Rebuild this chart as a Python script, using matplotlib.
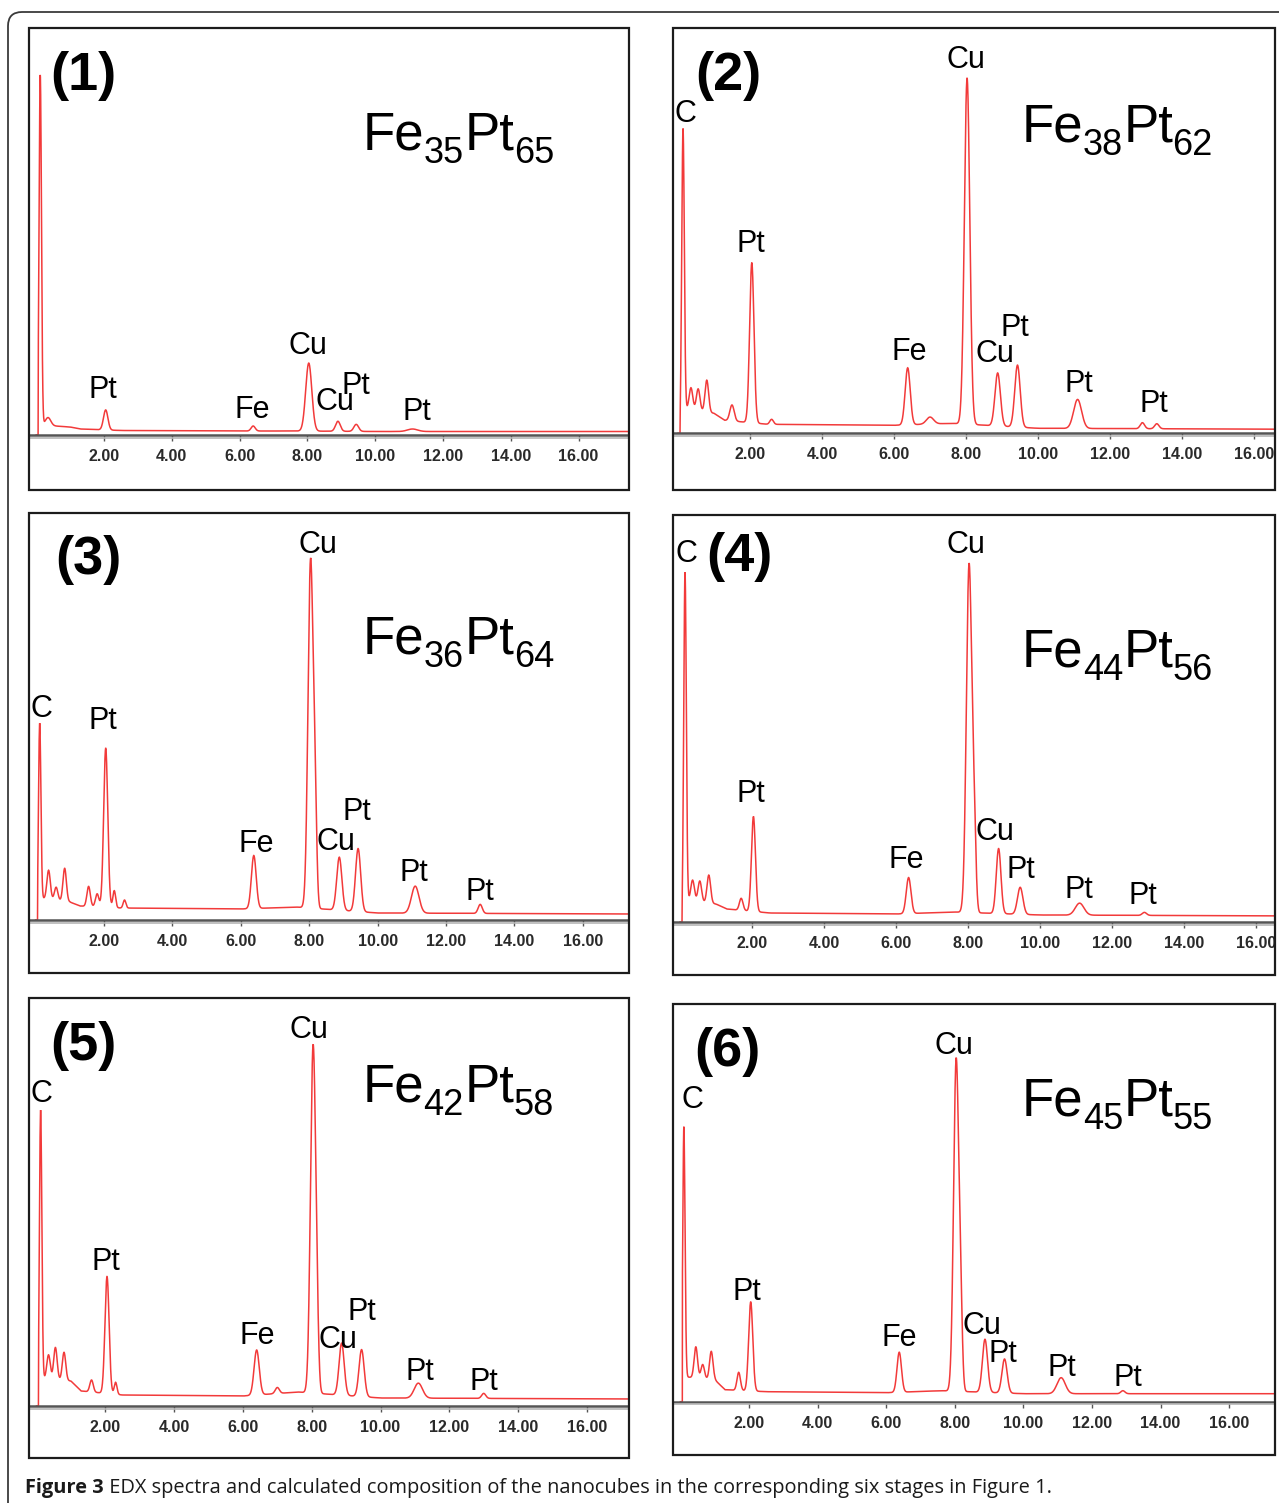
import numpy as np
import matplotlib
matplotlib.use("Agg")
import matplotlib.pyplot as plt
from matplotlib.patches import FancyBboxPatch, Rectangle
from matplotlib.lines import Line2D
from matplotlib.transforms import IdentityTransform

# ------------------------------------------------------------------ data
ticks = [2, 4, 6, 8, 10, 12, 14, 16]
tick_labels = ["2.00", "4.00", "6.00", "8.00", "10.00", "12.00", "14.00", "16.00"]

panel_tags = ["(1)", "(2)", "(3)", "(4)", "(5)", "(6)"]
fe_content = ["35", "38", "36", "44", "42", "45"]
pt_content = ["65", "62", "64", "56", "58", "55"]

# background (continuum) knots, energy in keV, intensity in a.u.
bg_energy = [0.0, 0.06, 0.10, 1.0, 1.3, 2.5, 6.0, 7.6, 10.0, 17.5]
bg1 = [0, 0, 10, 8, 6, 4.5, 4, 4, 3.5, 3.5]
bg2 = [0, 0, 25, 20, 13, 9, 8, 10, 5, 4]
bg3 = [0, 0, 22, 18, 14, 12, 11, 13, 7, 6]
bg4 = [0, 0, 22, 18, 13, 9, 8, 10, 7, 6]
bg5 = [0, 0, 28, 25, 15, 11, 10, 14, 8, 7]
bg6 = [0, 0, 25, 22, 12, 10, 9, 11, 8, 8]

# peaks: energy (keV), height above continuum (a.u.), width sigma (keV)
p1_energy = [0.12, 0.35, 2.05, 6.40, 8.04, 8.90, 9.44, 11.10]
p1_height = [350, 8, 20, 5, 68, 10, 7, 2.5]
p1_sigma = [0.035, 0.08, 0.065, 0.06, 0.09, 0.07, 0.07, 0.15]

p2_energy = [0.14, 0.36, 0.56, 0.80, 1.50, 2.05, 2.60, 6.38, 7.00, 8.03, 8.88, 9.43, 11.10, 12.90, 13.30]
p2_height = [280, 22, 22, 32, 16, 160, 5, 57, 7, 346, 53, 62, 29, 6, 5]
p2_sigma = [0.035, 0.05, 0.05, 0.05, 0.06, 0.06, 0.05, 0.07, 0.10, 0.075, 0.075, 0.075, 0.11, 0.06, 0.06]

p3_energy = [0.12, 0.38, 0.60, 0.85, 1.55, 1.80, 2.05, 2.30, 2.60, 6.38, 8.04, 8.17, 8.88, 9.43, 11.10, 13.00]
p3_height = [175, 29, 13, 33, 20, 13, 159, 17, 8, 53, 347, 90, 53, 63, 27, 9]
p3_sigma = [0.035, 0.05, 0.05, 0.05, 0.05, 0.05, 0.06, 0.04, 0.04, 0.07, 0.075, 0.05, 0.075, 0.075, 0.11, 0.06]

p4_energy = [0.14, 0.35, 0.55, 0.80, 1.70, 2.04, 6.35, 8.03, 8.17, 8.85, 9.45, 11.10, 12.90]
p4_height = [328, 21, 21, 28, 12, 95, 36, 348, 75, 65, 27, 12, 3]
p4_sigma = [0.035, 0.05, 0.05, 0.05, 0.05, 0.055, 0.065, 0.075, 0.05, 0.065, 0.075, 0.12, 0.06]

p5_energy = [0.12, 0.35, 0.55, 0.80, 1.60, 2.05, 2.30, 6.40, 7.00, 8.04, 8.15, 8.87, 9.45, 11.10, 13.00]
p5_height = [268, 24, 32, 28, 12, 117, 12, 45, 6, 345, 40, 52, 47, 15, 5]
p5_sigma = [0.035, 0.05, 0.05, 0.05, 0.05, 0.06, 0.04, 0.075, 0.06, 0.075, 0.05, 0.075, 0.075, 0.12, 0.06]

p6_energy = [0.10, 0.45, 0.65, 0.90, 1.70, 2.05, 6.38, 8.04, 8.17, 8.88, 9.45, 11.10, 12.90]
p6_height = [250, 31, 14, 28, 18, 89, 40, 331, 70, 53, 34, 16, 3]
p6_sigma = [0.035, 0.05, 0.05, 0.05, 0.05, 0.06, 0.065, 0.075, 0.05, 0.075, 0.075, 0.12, 0.06]

# peak labels shown in each panel
lab1 = ["Pt", "Fe", "Cu", "Cu", "Pt", "Pt"]
lab2 = ["C", "Cu", "Pt", "Fe", "Cu", "Pt", "Pt", "Pt"]
lab3 = ["Cu", "C", "Pt", "Fe", "Cu", "Pt", "Pt", "Pt"]
lab4 = ["C", "Cu", "Pt", "Fe", "Cu", "Pt", "Pt", "Pt"]
lab5 = ["C", "Cu", "Pt", "Fe", "Cu", "Pt", "Pt", "Pt"]
lab6 = ["C", "Cu", "Pt", "Fe", "Cu", "Pt", "Pt", "Pt"]

caption_bold = "Figure 3"
caption_rest = " EDX spectra and calculated composition of the nanocubes in the corresponding six stages in Figure 1."

# ------------------------------------------------------------------ layout (pixels)
W, H = 1279, 1503
# box x0, y0 (top), x1, y1 (bottom), axis baseline y, x-pixel of 0 keV, pixels per keV
boxes = [
    (29.4, 28.3, 628.6, 490.0, 435.0, 36.2, 33.9),
    (672.6, 28.3, 1274.7, 490.0, 433.3, 678.0, 36.0),
    (29.4, 513.3, 628.6, 973.3, 920.0, 35.6, 34.2),
    (672.6, 515.0, 1274.7, 975.0, 922.0, 680.0, 36.0),
    (29.4, 998.0, 628.6, 1458.0, 1406.0, 36.5, 34.4),
    (672.6, 1004.3, 1274.7, 1455.0, 1401.7, 680.4, 34.3),
]
tag_pos = [(83, 76), (728, 76), (88, 560), (739, 557), (83, 1046), (727, 1052)]
formula_pos = [(363, 150), (1022, 142), (363, 654), (1022, 667), (363, 1102), (1022, 1116)]
label_pos = [
    [(103, 388), (252, 408), (308, 343), (335, 400), (356, 384), (417, 409)],
    [(685, 111), (966, 58), (751, 241), (909, 350), (995, 352), (1015, 325), (1079, 382), (1154, 402)],
    [(318, 542), (41, 706), (103, 718), (256, 842), (336, 840), (357, 810), (414, 870), (480, 890)],
    [(686, 552), (966, 542), (751, 792), (906, 857), (995, 829), (1021, 868), (1079, 887), (1143, 893)],
    [(41, 1092), (309, 1027), (106, 1260), (257, 1334), (338, 1338), (362, 1309), (420, 1369), (484, 1380)],
    [(692, 1098), (954, 1043), (747, 1289), (899, 1336), (982, 1323), (1003, 1352), (1062, 1365), (1128, 1375)],
]

backgrounds = [bg1, bg2, bg3, bg4, bg5, bg6]
peaks = [
    (p1_energy, p1_height, p1_sigma),
    (p2_energy, p2_height, p2_sigma),
    (p3_energy, p3_height, p3_sigma),
    (p4_energy, p4_height, p4_sigma),
    (p5_energy, p5_height, p5_sigma),
    (p6_energy, p6_height, p6_sigma),
]
labels = [lab1, lab2, lab3, lab4, lab5, lab6]

fig = plt.figure(figsize=(W / 100, H / 100), dpi=100)
fig.patch.set_facecolor("white")
renderer = fig.canvas.get_renderer()


def fx(x):
    return x / W


def fy(y):
    return 1 - y / H


# outer rounded frame
outer = FancyBboxPatch((8, -30), 1320, H - 12 + 30,
                       boxstyle="round,pad=0,rounding_size=14",
                       transform=IdentityTransform(), fill=False,
                       ec="#3a3a3a", lw=1.3)
fig.add_artist(outer)

SPEC_COLOR = "#f23a3a"
LABEL_FONT = ["Liberation Sans", "DejaVu Sans"]
TICK_FONT = ["Liberation Sans", "DejaVu Sans"]


def formula(x0, ybase, fe, pt):
    """Draw Fe_xPt_y with dropped subscripts, piece by piece."""
    pieces = [("Fe", 38, 0, 0), (fe, 26, 13, 2), ("Pt", 38, 0, 0), (pt, 26, 13, 0)]
    x = x0
    for txt, size, drop, gap in pieces:
        t = fig.text(fx(x), fy(ybase + drop), txt, fontsize=size, family=LABEL_FONT,
                     ha="left", va="baseline", color="black")
        bb = t.get_window_extent(renderer=renderer)
        x += bb.width - 1 + gap


for i, (bx0, by0, bx1, by1, base, zero, ppk) in enumerate(boxes):
    # panel frame
    fig.add_artist(Rectangle((fx(bx0), fy(by1)), (bx1 - bx0) / W, (by1 - by0) / H,
                             transform=fig.transFigure, fill=False,
                             ec="#1c1c1c", lw=1.6, zorder=5))
    # second (light) baseline line just below the axis
    fig.add_artist(Line2D([fx(bx0 + 1), fx(bx1 - 1)], [fy(base + 2.5), fy(base + 2.5)],
                          transform=fig.transFigure, color="#b5b5b5", lw=1.2))

    ax = fig.add_axes([fx(bx0 + 1), fy(base), (bx1 - bx0 - 2) / W, (base - by0 - 2) / H])
    ax.patch.set_alpha(0)
    xmin = (bx0 + 1 - zero) / ppk
    xmax = (bx1 - 1 - zero) / ppk
    ax.set_xlim(xmin, xmax)
    ax.set_ylim(0, base - by0 - 2)

    e = np.arange(0.0, xmax + 0.01, 0.004)
    y = np.interp(e, bg_energy, backgrounds[i])
    pe, ph, ps = peaks[i]
    for c, h, s in zip(pe, ph, ps):
        y = y + h * np.exp(-0.5 * ((e - c) / s) ** 2)
    y[e < bg_energy[1]] = 0
    ax.plot(e, y, color=SPEC_COLOR, lw=1.1, solid_joinstyle="miter")

    for s in ["top", "left", "right"]:
        ax.spines[s].set_visible(False)
    ax.spines["bottom"].set_color("#555555")
    ax.spines["bottom"].set_linewidth(1.8)
    ax.set_yticks([])
    ax.set_xticks(ticks)
    ax.set_xticklabels(tick_labels, fontweight="bold", fontsize=11.5, family=TICK_FONT,
                       color="#2a2a2a")
    ax.tick_params(axis="x", direction="out", length=4, width=1.0, color="#555555", pad=6)

    # panel tag
    tx, ty = tag_pos[i]
    fig.text(fx(tx), fy(ty), panel_tags[i], fontsize=39, fontweight="bold",
             family=LABEL_FONT, ha="center", va="center", color="black")
    # composition
    fxp, fyp = formula_pos[i]
    formula(fxp, fyp, fe_content[i], pt_content[i])
    # element labels
    for lab, (lx, ly) in zip(labels[i], label_pos[i]):
        fig.text(fx(lx), fy(ly + 10.5), lab, fontsize=22, family=LABEL_FONT,
                 ha="center", va="baseline", color="black")

# caption
cap_y = 1493
t1 = fig.text(fx(25), fy(cap_y), caption_bold, fontsize=14.4, fontweight="bold",
              family=["Open Sans", "DejaVu Sans"], ha="left", va="baseline", color="#1a1a1a")
bb = t1.get_window_extent(renderer=renderer)
fig.text(bb.x1 / W, fy(cap_y), caption_rest, fontsize=14.4,
         family=["Open Sans", "DejaVu Sans"], ha="left", va="baseline", color="#1a1a1a")

fig.savefig("out.png", dpi=100)
